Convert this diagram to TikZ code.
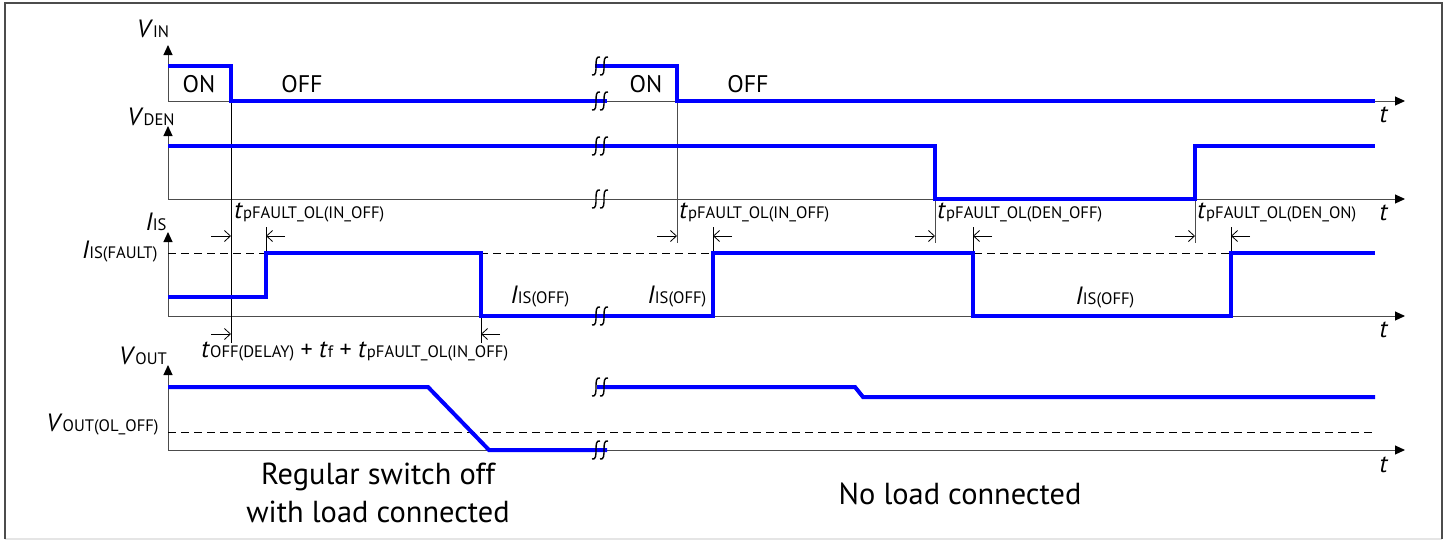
\documentclass[tikz,border=0pt]{standalone}
\usepackage{fontspec}
\setmainfont{PT Sans}
\usetikzlibrary{arrows.meta}
\newcommand\lb[2]{{\fontsize{12.5}{14}\selectfont\textit{#1}}{\fontsize{8.3}{9}\selectfont #2}}
\begin{document}
\begin{tikzpicture}[x=0.5pt,y=-0.5pt,
  sig/.style={blue, line width=2pt, line join=miter},
  ax/.style={gray!60!black, line width=0.5pt},
  axarr/.style={ax, -{Triangle[length=5pt,width=4.5pt,black]}},
  thinl/.style={black, line width=0.45pt},
  dimarr/.style={black, line width=0.4pt, -{Straight Barb[length=3pt,width=5.5pt]}},
  lab/.style={font=\fontsize{12}{14}\selectfont, inner sep=0pt},
  capt/.style={font=\fontsize{15.2}{18}\selectfont, inner sep=0pt, anchor=base},
  brkmark/.pic={
    \draw[black, line width=0.7pt] (-9,9) .. controls (-5,10) and (-5,5) .. (-5,0) .. controls (-5,-5) and (-5,-10) .. (-1,-9);
    \draw[black, line width=0.7pt] (-1,9) .. controls (3,10) and (3,5) .. (3,0) .. controls (3,-5) and (3,-10) .. (7,-9);
  }]
\useasboundingbox (0,0) rectangle (1450,541);
% frame
\draw[gray!20, line width=0.8pt] (5,539) -- (1442,539);
\draw[gray!60!black, line width=1pt] (5,539) -- (5,3) -- (1442,3) -- (1442,539);

% axes
\draw[axarr] (168,101) -- (168,45);
\draw[axarr] (168,101) -- (1405,101);
\draw[axarr] (168,199) -- (168,126);
\draw[axarr] (168,199) -- (1405,199);
\draw[axarr] (168,316) -- (168,232);
\draw[axarr] (168,316) -- (1405,316);
\draw[axarr] (168,450) -- (168,365);
\draw[axarr] (168,450) -- (1405,450);

% dashed levels
\draw[thinl, dash pattern=on 4pt off 2.5pt] (168,253) -- (1375,253);
\draw[thinl, dash pattern=on 4pt off 2.5pt] (168,432) -- (1375,432);

% marker lines
\draw[thinl] (231,101) -- (231,343);
\draw[ax] (677,101) -- (677,243);
\draw[ax] (935,199) -- (935,243);
\draw[ax] (1195,199) -- (1195,243);
\draw[thinl] (266,227) -- (266,253);
\draw[thinl] (713,227) -- (713,253);
\draw[thinl] (973,227) -- (973,253);
\draw[thinl] (1231,227) -- (1231,253);
\draw[thinl] (481,316) -- (481,343);

% dimension arrows
\draw[dimarr] (211,236) -- (231,236);
\draw[dimarr] (285,236) -- (266,236);
\draw[dimarr] (657,236) -- (677,236);
\draw[dimarr] (732,236) -- (713,236);
\draw[dimarr] (915,236) -- (935,236);
\draw[dimarr] (992,236) -- (973,236);
\draw[dimarr] (1175,236) -- (1195,236);
\draw[dimarr] (1250,236) -- (1231,236);
\draw[dimarr] (211,334) -- (231,334);
\draw[dimarr] (500,334) -- (481,334);

% signals
\draw[sig] (168,66) -- (231,66) -- (231,101) -- (607,101);
\draw[sig] (595,66) -- (677,66) -- (677,101) -- (1375,101);
\draw[sig] (168,146) -- (935,146) -- (935,199) -- (1195,199) -- (1195,146) -- (1375,146);
\draw[sig] (168,297) -- (266,297) -- (266,253) -- (481,253) -- (481,316) -- (713,316) -- (713,253)
  -- (973,253) -- (973,316) -- (1231,316) -- (1231,253) -- (1375,253);
\draw[sig] (168,387) -- (428,387) -- (489,450) -- (607,450);
\draw[sig] (597,387) -- (855,387) -- (863,397) -- (1375,397);

% break marks
\foreach \yy in {66,101,146,199,316,387,450} { \pic at (601,\yy) {brkmark}; }

% labels
\node[lab] (vin) at (153,29) {\lb{V}{IN}};
\node[lab] (vden) at (151,117) {\lb{V}{DEN}};
\node[lab] (iis) at (156,222) {\lb{I}{IS}};
\node[lab] (vout) at (143,356) {\lb{V}{OUT}};
\node[lab, anchor=east] (isf) at (158,252) {\lb{I}{IS(FAULT)}};
\node[lab, anchor=east] (vol) at (159,425) {\lb{V}{OUT(OL\_OFF)}};
\node[lab] (on1) at (199,84) {ON};
\node[lab] (off1) at (302,84) {OFF};
\node[lab] (on2) at (646,84) {ON};
\node[lab] (off2) at (748,84) {OFF};
\node[lab] (t1) at (1384,115) {\lb{t}{}};
\node[lab] (t2) at (1384,213) {\lb{t}{}};
\node[lab] (t3) at (1384,330) {\lb{t}{}};
\node[lab] (t4) at (1384,465) {\lb{t}{}};
\node[lab, anchor=west] (tp1) at (234,213) {\lb{t}{pFAULT\_OL(IN\_OFF)}};
\node[lab, anchor=west] (tp2) at (679,213) {\lb{t}{pFAULT\_OL(IN\_OFF)}};
\node[lab, anchor=west] (tp3) at (937,213) {\lb{t}{pFAULT\_OL(DEN\_OFF)}};
\node[lab, anchor=west] (tp4) at (1197,213) {\lb{t}{pFAULT\_OL(DEN\_ON)}};
\node[lab] (isoff1) at (540,297) {\lb{I}{IS(OFF)}};
\node[lab] (isoff2) at (677,297) {\lb{I}{IS(OFF)}};
\node[lab] (isoff3) at (1105,298) {\lb{I}{IS(OFF)}};
\node[lab, anchor=west] (form) at (201,352) {\lb{t}{OFF(DELAY)} + \lb{t}{f} + \lb{t}{pFAULT\_OL(IN\_OFF)}};
\node[capt] (c1) at (378,484) {Regular switch off};
\node[capt] (c2) at (378,522) {with load connected};
\node[capt] (c3) at (960,504) {No load connected};
\end{tikzpicture}
\end{document}
